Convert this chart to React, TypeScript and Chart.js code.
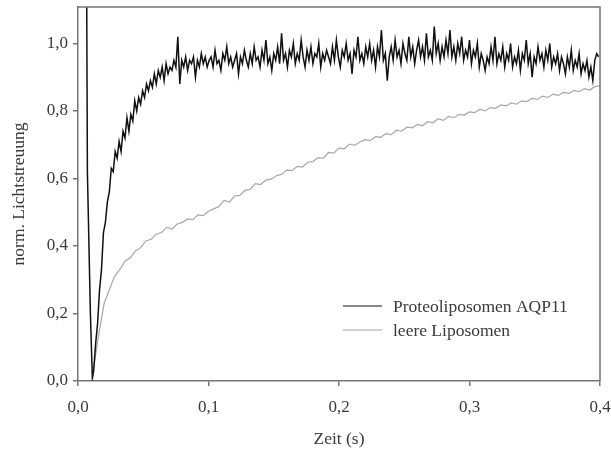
import React, { useEffect, useRef } from "react";
import { Chart, registerables } from "chart.js";

Chart.register(...registerables);

// Axis ticks
const X_TICKS = [0, 0.1, 0.2, 0.3, 0.4];
const Y_TICKS = [0, 0.2, 0.4, 0.6, 0.8, 1.0];

// Series labels
const SERIES_LABELS = ["Proteoliposomen AQP11", "leere Liposomen"];

// Black trace: initial transient (mixing dead-time artefact)
const BLACK_START_X = [0.0066, 0.0072, 0.0095, 0.011];
const BLACK_START_Y = [1.2, 0.62, 0.2, 0.01];

// Black trace sampled every 0.0015 s starting at 0.012 s
const BLACK_T0 = 0.012;
const BLACK_DT = 0.0015;
const BLACK_VALUES = [
  0.03, 0.11, 0.17, 0.27, 0.33, 0.44, 0.47, 0.53, 0.56, 0.63,
  0.62, 0.68, 0.66, 0.71, 0.68, 0.74, 0.72, 0.78, 0.74, 0.79,
  0.77, 0.83, 0.80, 0.84, 0.82, 0.86, 0.84, 0.88, 0.86, 0.89,
  0.87, 0.91, 0.88, 0.92, 0.90, 0.93, 0.89, 0.94, 0.91, 0.93,
  0.92, 0.95, 0.93, 1.02, 0.88, 0.95, 0.93, 0.96, 0.92, 0.95,
  0.94, 0.96, 0.90, 0.95, 0.93, 0.97, 0.94, 0.96, 0.93, 0.95,
  0.96, 0.93, 0.98, 0.94, 0.95, 0.92, 0.97, 0.95, 0.99, 0.94,
  0.96, 0.93, 0.95, 0.97, 0.91, 0.96, 0.94, 0.98, 0.95, 0.93,
  0.97, 0.94, 0.99, 0.95, 0.96, 0.93, 0.98, 0.95, 1.01, 0.94,
  0.96, 0.92, 0.97, 0.95, 0.99, 0.94, 1.03, 0.95, 0.97, 0.93,
  0.98, 0.96, 1.00, 0.94, 0.97, 0.95, 1.01, 0.96, 0.93, 0.98,
  0.95, 0.99, 0.94, 0.97, 0.96, 1.00, 0.93, 0.97, 0.95, 0.98,
  0.96, 0.94, 0.99, 0.95, 1.01, 0.96, 0.93, 0.98, 0.96, 1.00,
  0.95, 0.97, 0.91, 0.98, 0.96, 1.02, 0.95, 0.97, 0.94, 0.99,
  0.96, 1.00, 0.95, 0.98, 0.93, 0.99, 0.96, 1.04, 0.95, 0.97,
  0.89, 0.96, 0.99, 0.95, 1.01, 0.96, 0.98, 0.94, 1.00, 0.97,
  0.95, 1.02, 0.96, 0.99, 0.94, 0.98, 1.01, 0.96, 0.99, 0.95,
  1.03, 0.96, 0.98, 0.95, 1.05, 0.97, 1.00, 0.95, 0.99, 0.96,
  1.01, 0.97, 1.04, 0.96, 0.99, 0.95, 1.00, 0.97, 1.02, 0.95,
  0.98, 0.96, 1.01, 0.94, 0.98, 0.96, 1.00, 0.93, 0.97, 0.95,
  0.92, 0.96, 0.94, 0.99, 0.95, 1.02, 0.94, 0.97, 0.95, 0.99,
  0.93, 0.97, 0.95, 1.00, 0.93, 0.96, 0.94, 0.98, 0.92, 0.97,
  0.95, 1.01, 0.94, 0.97, 0.90, 0.96, 0.94, 0.99, 0.95, 0.97,
  0.93, 0.98, 0.95, 1.00, 0.93, 0.96, 0.94, 0.97, 0.92, 0.96,
  0.94, 0.91, 0.96, 0.93, 0.98, 0.92, 0.95, 0.93, 0.97, 0.91,
  0.94, 0.92, 0.95, 0.90, 0.93, 0.89, 0.95, 0.97, 0.96,
];

// Grey trace sampled every 0.004 s starting at 0.012 s
const GREY_START_X = [0.011];
const GREY_START_Y = [0.0];
const GREY_T0 = 0.012;
const GREY_DT = 0.004;
const GREY_VALUES = [
  0.04, 0.14, 0.23, 0.27, 0.31, 0.33, 0.355, 0.365, 0.385, 0.395,
  0.415, 0.42, 0.435, 0.44, 0.455, 0.45, 0.465, 0.47, 0.48, 0.478,
  0.492, 0.49, 0.503, 0.51, 0.517, 0.535, 0.53, 0.548, 0.55, 0.565,
  0.568, 0.585, 0.582, 0.595, 0.598, 0.608, 0.612, 0.625, 0.623, 0.636,
  0.634, 0.648, 0.65, 0.662, 0.66, 0.677, 0.675, 0.69, 0.688, 0.702,
  0.698, 0.708, 0.715, 0.712, 0.724, 0.722, 0.733, 0.73, 0.743, 0.74,
  0.752, 0.75, 0.76, 0.756, 0.768, 0.765, 0.777, 0.772, 0.784, 0.78,
  0.79, 0.788, 0.797, 0.795, 0.805, 0.8, 0.81, 0.808, 0.818, 0.815,
  0.824, 0.82, 0.83, 0.828, 0.837, 0.834, 0.844, 0.84, 0.85, 0.846,
  0.855, 0.852, 0.861, 0.857, 0.866, 0.862, 0.872, 0.875,
];

const FONT = "'Liberation Serif', 'Times New Roman', serif";
const TEXT_COLOR = "#3a3a3a";
const AXIS_COLOR = "#747474";
const BLACK = "#111111";
const GREY = "#a6a6a6";

const fmt = (v: number) => v.toFixed(1).replace(".", ",");

const frameAndLegend = {
  id: "frameAndLegend",
  afterDraw(chart: any) {
    const { ctx, chartArea } = chart;
    ctx.save();
    ctx.strokeStyle = AXIS_COLOR;
    ctx.lineWidth = 1.5;
    ctx.beginPath();
    ctx.moveTo(chartArea.left, chartArea.top);
    ctx.lineTo(chartArea.right, chartArea.top);
    ctx.lineTo(chartArea.right, chartArea.bottom);
    ctx.stroke();

    const ds = chart.data.datasets;
    const lx = chartArea.left + 265;
    const ly = chartArea.top + 299;
    ctx.font = `17.5px ${FONT}`;
    ctx.textBaseline = "middle";
    ctx.textAlign = "left";
    ds.forEach((d: any, i: number) => {
      const y = ly + i * 24;
      ctx.strokeStyle = d.borderColor;
      ctx.lineWidth = 1.2;
      ctx.beginPath();
      ctx.moveTo(lx, y);
      ctx.lineTo(lx + 39, y);
      ctx.stroke();
      ctx.fillStyle = TEXT_COLOR;
      ctx.fillText(d.label, lx + 50, y + 1);
    });
    ctx.restore();
  },
};

export default function App() {
  const ref = useRef<HTMLCanvasElement | null>(null);

  useEffect(() => {
    if (!ref.current) return;
    const black = [
      ...BLACK_START_X.map((x, i) => ({ x, y: BLACK_START_Y[i] })),
      ...BLACK_VALUES.map((y, i) => ({ x: BLACK_T0 + i * BLACK_DT, y })),
    ];
    const grey = [
      ...GREY_START_X.map((x, i) => ({ x, y: GREY_START_Y[i] })),
      ...GREY_VALUES.map((y, i) => ({ x: GREY_T0 + i * GREY_DT, y })),
    ];
    const chart = new Chart(ref.current, {
      type: "line",
      data: {
        datasets: [
          {
            label: SERIES_LABELS[0],
            data: black,
            borderColor: BLACK,
            borderWidth: 1.5,
            pointRadius: 0,
            tension: 0,
          },
          {
            label: SERIES_LABELS[1],
            data: grey,
            borderColor: GREY,
            borderWidth: 1.2,
            pointRadius: 0,
            tension: 0,
          },
        ],
      },
      options: {
        responsive: false,
        animation: false,
        layout: { padding: { top: 7, right: 11, left: 0, bottom: 0 } },
        plugins: { legend: { display: false }, tooltip: { enabled: false } },
        scales: {
          x: {
            type: "linear",
            min: 0,
            max: 0.4,
            afterFit: (s: any) => {
              s.height = 69;
              s.paddingLeft = 0;
              s.paddingRight = 0;
            },
            afterBuildTicks: (s: any) => {
              s.ticks = X_TICKS.map((value) => ({ value }));
            },
            ticks: {
              callback: (v: any) => fmt(Number(v)),
              color: TEXT_COLOR,
              font: { family: FONT, size: 17 },
              padding: 11,
              maxRotation: 0,
            },
            grid: { drawOnChartArea: false, drawTicks: true, tickLength: 5, color: AXIS_COLOR, lineWidth: 1.5 },
            border: { display: true, color: AXIS_COLOR, width: 1.5 },
            title: {
              display: true,
              text: "Zeit (s)",
              color: TEXT_COLOR,
              font: { family: FONT, size: 17.5 },
              padding: { top: 0, bottom: 0 },
            },
          },
          y: {
            type: "linear",
            min: 0,
            max: 1.108,
            afterFit: (s: any) => {
              s.width = 78;
              s.paddingTop = 0;
              s.paddingBottom = 0;
            },
            afterBuildTicks: (s: any) => {
              s.ticks = Y_TICKS.map((value) => ({ value }));
            },
            ticks: {
              callback: (v: any) => fmt(Number(v)),
              color: TEXT_COLOR,
              font: { family: FONT, size: 17 },
              padding: 5,
            },
            grid: { drawOnChartArea: false, drawTicks: true, tickLength: 5, color: AXIS_COLOR, lineWidth: 1.5 },
            border: { display: true, color: AXIS_COLOR, width: 1.5 },
            title: {
              display: true,
              text: "norm. Lichtstreuung",
              color: TEXT_COLOR,
              font: { family: FONT, size: 17.5 },
              padding: { top: 9, bottom: 0 },
            },
          },
        },
      },
      plugins: [frameAndLegend],
    });
    return () => chart.destroy();
  }, []);

  return (
    <div style={{ position: "absolute", left: 0, top: 0, width: 611, height: 450, background: "#fff" }}>
      <canvas ref={ref} width={611} height={450} style={{ display: "block", width: 611, height: 450 }} />
    </div>
  );
}
